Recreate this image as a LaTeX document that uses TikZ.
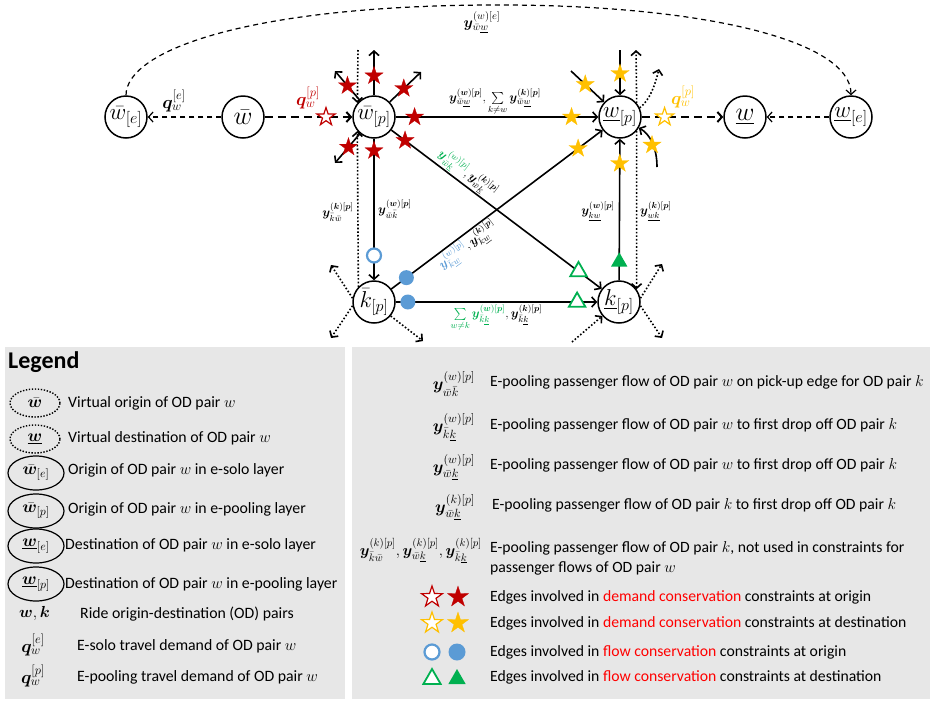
\RequirePackage{fix-cm}
\documentclass[tikz,border=0pt]{standalone}
\usepackage{amsmath}
\usepackage{bm}
\usepackage{fontspec}
\setmainfont{Carlito}
\usetikzlibrary{arrows.meta,shapes.geometric}

\definecolor{dred}{HTML}{C00000}
\definecolor{gold}{HTML}{FFC000}
\definecolor{skyb}{HTML}{5B9BD5}
\definecolor{grn}{HTML}{00B050}
\definecolor{panel}{HTML}{E7E7E7}
\definecolor{hired}{HTML}{FF0000}

\newcommand{\lblsize}{\fontsize{12.5}{14}\selectfont}
\newcommand{\lgdsize}{\fontsize{15.8}{18}\selectfont}
\newcommand{\rgdsize}{\fontsize{15.7}{18}\selectfont}
\newcommand{\symsize}{\fontsize{17}{19}\selectfont}
\newcommand{\qsize}{\fontsize{18}{20}\selectfont}

\tikzset{
  vnode/.style={circle, draw, line width=1.5pt, minimum size=42pt, inner sep=0pt, fill=white, font=\fontsize{23}{25}\selectfont},
  bignode/.style={vnode, font=\fontsize{26}{28}\selectfont},
  vtip/.style={-{Straight Barb[length=4.5pt,width=10pt]}},
  edge/.style={line width=1.6pt, vtip},
  dotline/.style={line width=1.6pt, dash pattern=on 1.6pt off 2pt, vtip},
  dashthin/.style={line width=1.2pt, dash pattern=on 5pt off 4pt, vtip},
  dashthick/.style={line width=2pt, dash pattern=on 8pt off 5pt, vtip},
  starbase/.style={star, star points=5, star point ratio=2.6, minimum size=19pt, inner sep=0pt, solid},
  rstar/.style={starbase, fill=dred, draw=dred, line width=0.3pt},
  ystar/.style={starbase, fill=gold, draw=gold, line width=0.3pt},
  rstaro/.style={starbase, fill=white, draw=dred, line width=1.2pt},
  ystaro/.style={starbase, fill=white, draw=gold, line width=1.2pt},
  bdot/.style={circle, fill=skyb, minimum size=15pt, inner sep=0pt},
  bring/.style={circle, draw=skyb, fill=white, line width=2.2pt, minimum size=14pt, inner sep=0pt, solid},
  gtri/.style={regular polygon, regular polygon sides=3, minimum size=19pt, inner sep=0pt, solid},
  gtrio/.style={gtri, draw=grn, fill=white, line width=1.8pt},
  gtrif/.style={gtri, fill=grn},
  elbl/.style={font=\lblsize, inner sep=1pt},
  lgtext/.style={anchor=west, inner sep=0pt, font=\lgdsize},
  rgtext/.style={anchor=west, inner sep=0pt, font=\rgdsize},
  lgsym/.style={anchor=east, inner sep=0pt, font=\symsize},
  lgdot/.style={ellipse, draw, line width=1.4pt, dash pattern=on 1.4pt off 1.6pt, minimum width=50pt, minimum height=28pt, inner sep=0pt, font=\symsize},
  lgsolid/.style={ellipse, draw, line width=1.2pt, minimum width=56pt, minimum height=34pt, inner sep=0pt, font=\symsize},
}

\begin{document}
\begin{tikzpicture}[x=1pt,y=-1pt]
\useasboundingbox (0,0) rectangle (933,702);

% legend panels
\fill[panel] (5,347) rectangle (345,699);
\fill[panel] (352,347) rectangle (930,699);

% vertices of the network
\node[vnode] (wbe) at (126,117) {$\bar w_{[e]}$};
\node[bignode] (wb) at (243,117) {$\bar w$};
\node[vnode] (wbp) at (374,117) {$\bar w_{[p]}$};
\node[vnode] (wup) at (620,117) {$\underline{w}_{[p]}$};
\node[bignode] (wu) at (745,117) {$\underline{w}$};
\node[vnode] (wue) at (851,117) {$\underline{w}_{[e]}$};
\node[vnode] (kbp) at (374,302) {$\bar k_{[p]}$};
\node[vnode] (kup) at (619,302) {$\underline{k}_{[p]}$};

% e-solo flow arc
\draw[dashthin] (wbe.north) .. controls (126,50) and (250,6) .. (490,5)
  .. controls (700,4) and (851,40) .. (wue.north);
\node[elbl, font=\fontsize{15}{17}\selectfont] (arclbl) at (482,22) {$\bm y^{(w)[e]}_{\bar w\underline{w}}$};

% demand edges
\draw[dashthin] (wb) -- (wbe);
\node[font=\qsize] (qe) at (174,101) {$\bm q_w^{[e]}$};
\draw[dashthick] (wb) -- node[pos=.70, rstaro]{} (wbp);
\node[font=\qsize, text=dred] (qpr) at (308,98) {$\bm q_w^{[p]}$};
\draw[dashthick] (wup) -- node[pos=.28, ystaro]{} (wu);
\node[font=\qsize, text=gold] (qpy) at (683,97) {$\bm q_w^{[p]}$};
\draw[dashthin] (wue) -- (wu);

% e-pooling edges
\draw[edge] (wbp) -- node[pos=.093,rstar]{} node[pos=.868,ystar]{} (wup);
\node[elbl, anchor=south] (lbww) at (495,117)
  {$\bm y^{(\bm w)[\bm p]}_{\bar w\underline{w}},\sum\limits_{k\neq w}\bm y^{(\bm k)[\bm p]}_{\bar w\underline{w}}$};

\draw[edge] (wbp) -- node[pos=.084,rstar]{} node[pos=.825,bring]{} (kbp);
\node[elbl, anchor=west] (lbwk) at (377,209) {$\bm y^{(\bm w)[\bm p]}_{\bar w\bar k}$};

\draw[edge] (wbp) -- node[pos=.065,rstar]{} node[pos=.89,gtrio]{}
  node[pos=.33, above, sloped, elbl]{{\color{grn}$\bm y^{(w)[p]}_{\bar w\underline{k}}$}$,\bm y^{(\bm k)[\bm p]}_{\bar w\underline{k}}$} (kup);

\draw[edge] (kbp) -- node[pos=.071,bdot]{} node[pos=.884,ystar]{}
  node[pos=.33, below, sloped, elbl]{{\color{skyb}$\bm y^{(w)[p]}_{\bar k\underline{w}}$}$,\bm y^{(\bm k)[\bm p]}_{\bar k\underline{w}}$} (wup);

\draw[edge] (kbp) -- node[pos=.06,bdot]{} node[pos=.9,gtrio]{}
  node[pos=.5, below=1pt, elbl]{{\color{grn}$\sum\limits_{w\neq k}\bm y^{(\bm w)[\bm p]}_{\bar k\underline{k}}$}$,\bm y^{(\bm k)[\bm p]}_{\bar k\underline{k}}$} (kup);

\draw[edge] (kup) -- node[pos=.13,gtrif]{} node[pos=.825,ystar]{} (wup);
\node[elbl, anchor=east] (lbkw) at (616,211) {$\bm y^{(\bm w)[\bm p]}_{\underline{kw}}$};

% dotted flows of OD pair k
\draw[dotline] (kbp.136) -- (wbp.220);
\node[elbl, anchor=east] (lbkbwb) at (355,212) {$\bm y^{(\bm k)[\bm p]}_{\bar k\bar w}$};
\draw[dotline] (wup.-40) -- (kup.36);
\node[elbl, anchor=west] (lbwuku) at (639,211) {$\bm y^{(\bm k)[\bm p]}_{\underline{wk}}$};

% other edges leaving the pooled origin
\coordinate (s1) at (374,50);
\coordinate (s2) at (421,72);
\coordinate (s3) at (335,71);
\coordinate (s4) at (335,163);
\draw[edge] (wbp) -- node[pos=.43,rstar]{} (s1);
\draw[edge] (wbp) -- node[pos=.45,rstar]{} (s2);
\draw[edge] (wbp) -- node[pos=.5,rstar]{} (s3);
\draw[edge] (wbp) -- node[pos=.46,rstar]{} (s4);
\coordinate (d1) at (358,50);
\draw[dotline] (d1) -- (wbp.140);

% other edges entering the pooled destination
\coordinate (t1) at (620,50);
\coordinate (t2) at (571,71);
\coordinate (t3) at (657,167);
\coordinate (t4) at (636,50);
\coordinate (t5) at (659,69);
\draw[edge] (t1) -- node[pos=.52,ystar]{} (wup);
\draw[edge] (t2) -- node[pos=.43,ystar]{} (wup);
\draw[edge] (t3) .. controls (657,148) and (650,134) .. (wup.-30);
\node[ystar] (ys6) at (652,145) {};
\draw[dotline] (wup.40) -- (t4);
\draw[dotline] (wup.25) .. controls (650,100) and (655,85) .. (t5);

% dotted stubs at the pick-up and drop-off vertices of k
\coordinate (u1) at (331,265);
\coordinate (u2) at (331,338);
\coordinate (u3) at (423,341);
\draw[dotline] (kbp.170) -- (u1);
\draw[dotline] (kbp.190) -- (u2);
\draw[dotline] (kbp.-40) -- (u3);
\coordinate (v1) at (572,342);
\coordinate (v2) at (662,264);
\coordinate (v3) at (662,338);
\draw[dotline] (v1) -- (kup.-140);
\draw[dotline] (kup.10) -- (v2);
\draw[dotline] (kup.-10) -- (v3);

% ---------------- legend, left panel ----------------
\node[anchor=west, inner sep=0pt, font=\fontsize{24}{28}\selectfont\bfseries] (lgtitle) at (8,362) {Legend};
\node[lgdot] (le1) at (35,403) {$\bm{\bar w}$};
\node[lgtext] (lt1) at (68,403) {Virtual origin of OD pair $w$};
\node[lgdot] (le2) at (35,439) {$\bm{\underline{w}}$};
\node[lgtext] (lt2) at (68,438) {Virtual destination of OD pair $w$};
\node[lgsolid] (le3) at (36,473) {$\bm{\bar w}_{[e]}$};
\node[lgtext] (lt3) at (68,470) {Origin of OD pair $w$ in e-solo layer};
\node[lgsolid] (le4) at (36,511) {$\bm{\bar w}_{[p]}$};
\node[lgtext] (lt4) at (68,509) {Origin of OD pair $w$ in e-pooling layer};
\node[lgsolid] (le5) at (36,546) {$\bm{\underline{w}}_{[e]}$};
\node[lgtext] (lt5) at (65,545) {Destination of OD pair $w$ in e-solo layer};
\node[lgsolid] (le6) at (36,584) {$\bm{\underline{w}}_{[p]}$};
\node[lgtext] (lt6) at (65,584) {Destination of OD pair $w$ in e-pooling layer};
\node[anchor=west, inner sep=0pt, font=\fontsize{16}{18}\selectfont] (lm7) at (19,613) {$\bm w,\bm k$};
\node[lgtext] (lt7) at (80,614) {Ride origin-destination (OD) pairs};
\node[font=\qsize] (lm8) at (33,645) {$\bm q_w^{[e]}$};
\node[lgtext] (lt8) at (77,646) {E-solo travel demand of OD pair $w$};
\node[font=\qsize] (lm9) at (33,676) {$\bm q_w^{[p]}$};
\node[lgtext] (lt9) at (77,677) {E-pooling travel demand of OD pair $w$};

% ---------------- legend, right panel ----------------
\node[lgsym] (rs1) at (475,384) {$\bm y^{(w)[p]}_{\bar w\bar k}$};
\node[rgtext] (rt1) at (490,382) {E-pooling passenger flow of OD pair $w$ on pick-up edge for OD pair $k$};
\node[lgsym] (rs2) at (475,427) {$\bm y^{(w)[p]}_{\bar k\underline{k}}$};
\node[rgtext] (rt2) at (490,425) {E-pooling passenger flow of OD pair $w$ to first drop off OD pair $k$};
\node[lgsym] (rs3) at (475,467) {$\bm y^{(w)[p]}_{\bar w\underline{k}}$};
\node[rgtext] (rt3) at (490,465) {E-pooling passenger flow of OD pair $w$ to first drop off OD pair $k$};
\node[lgsym] (rs4) at (475,507) {$\bm y^{(k)[p]}_{\bar w\underline{k}}$};
\node[rgtext] (rt4) at (492,505) {E-pooling passenger flow of OD pair $k$ to first drop off OD pair $k$};
\node[lgsym, font=\fontsize{15.5}{18}\selectfont] (rs5) at (482,551) {$\bm y^{(k)[p]}_{\bar k\bar w},\bm y^{(k)[p]}_{\bar w\underline{k}},\bm y^{(k)[p]}_{\bar k\underline{k}}$};
\node[rgtext] (rt5a) at (490,548) {E-pooling passenger flow of OD pair $k$, not used in constraints for};
\node[rgtext] (rt5b) at (490,568) {passenger flows of OD pair $w$};

\node[rstaro, minimum size=22pt] (ls1) at (432,597) {};
\node[rstar, minimum size=22pt] (ls2) at (458,597) {};
\node[rgtext] (rt6) at (490,597) {Edges involved in \textcolor{hired}{demand conservation} constraints at origin};
\node[ystaro, minimum size=22pt] (ls3) at (432,623) {};
\node[ystar, minimum size=22pt] (ls4) at (458,623) {};
\node[rgtext] (rt7) at (490,623) {Edges involved in \textcolor{hired}{demand conservation} constraints at destination};
\node[bring, minimum size=15pt] (ls5) at (432,652) {};
\node[bdot, minimum size=17pt] (ls6) at (457,652) {};
\node[rgtext] (rt8) at (490,652) {Edges involved in \textcolor{hired}{flow conservation} constraints at origin};
\node[gtrio, minimum size=20pt] (ls7) at (432,679) {};
\node[gtrif, minimum size=20pt] (ls8) at (457,679) {};
\node[rgtext] (rt9) at (490,677) {Edges involved in \textcolor{hired}{flow conservation} constraints at destination};
\end{tikzpicture}
\end{document}
